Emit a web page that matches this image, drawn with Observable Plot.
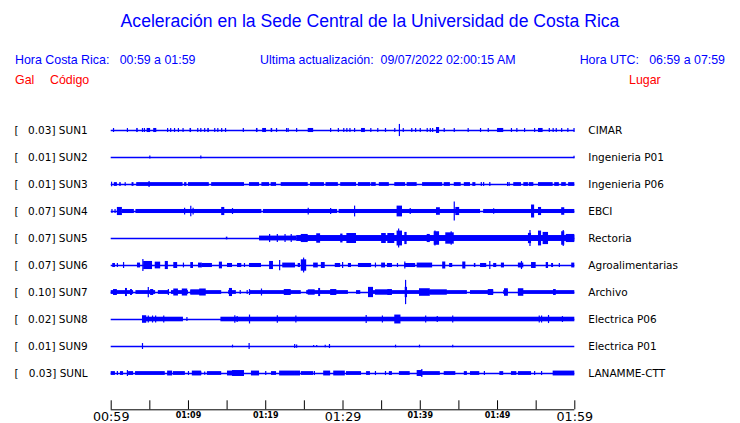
<!DOCTYPE html>
<html><head><meta charset="utf-8">
<script src="https://cdn.jsdelivr.net/npm/d3@7"></script>
<script src="https://cdn.jsdelivr.net/npm/@observablehq/plot@0.6"></script>
<style>
body{margin:0;background:#fff;width:740px;height:423px;overflow:hidden;}
#header{position:relative;height:95px;font-family:"Liberation Sans",Arial,sans-serif;}
#header div{position:absolute;white-space:pre;line-height:1;}
.title{left:0;width:740px;text-align:center;top:13px;font-size:17.6px;color:#0000ff;}
.info{font-size:12.4px;color:#0000ff;top:54px;}
.red{font-size:12.4px;color:#ff0000;top:74px;}
#chart svg{display:block;overflow:visible;}
</style></head><body>
<div id="header">
<div class="title">Aceleración en la Sede Central de la Universidad de Costa Rica</div>
<div class="info" style="left:15px">Hora Costa Rica:   00:59 a 01:59</div>
<div class="info" style="left:260px">Ultima actualización:  09/07/2022 02:00:15 AM</div>
<div class="info" style="right:15px">Hora UTC:   06:59 a 07:59</div>
<div class="red" style="left:15px">Gal</div>
<div class="red" style="left:50px">Código</div>
<div class="red" style="left:629px">Lugar</div>
</div>
<div id="chart"></div>
<script>
// ---- data ----
const codes = ["SUN1","SUN2","SUN3","SUN4","SUN5","SUN6","SUN7","SUN8","SUN9","SUNL"];
const places = ["CIMAR","Ingenieria P01","Ingenieria P06","EBCI","Rectoria","Agroalimentarias","Archivo","Electrica P06","Electrica P01","LANAMME-CTT"];
const peakGal = [0.03,0.01,0.01,0.07,0.07,0.07,0.10,0.02,0.01,0.03];
const startMinute = 59;          // 00:59 local time
const spanMinutes = 60;          // 00:59 -> 01:59
const majorTicks = [0,30,60];
const minorTicks = [10,20,40,50];
const tickStep = 5;

// bands: [t0 (min), t1 (min), relative amplitude]; spikes: [t (min), relative amplitude]
const sun1Bands = [[3.3,3.5,0.15],[4.65,5.1,0.15],[5.5,5.9,0.15],[10.2,10.4,0.15],[12.5,12.7,0.15],[18.8,19.0,0.15],[19.6,20.1,0.15],[20.7,20.9,0.15],[25.5,26.2,0.15],[32.4,32.9,0.15],[42.1,42.5,0.22],[50.0,50.8,0.15],[55.3,55.9,0.15]];
const sun1Spikes = [[0.3,0.15],[2.1,0.15],[4.05,0.15],[4.3,0.15],[7.3,0.15],[7.7,0.15],[8.2,0.15],[8.7,0.15],[9.3,0.15],[11.2,0.15],[11.6,0.15],[12.1,0.15],[13.4,0.15],[13.8,0.15],[14.3,0.15],[14.8,0.15],[17.1,0.15],[21.4,0.15],[22.7,0.15],[22.9,0.15],[24.0,0.15],[28.4,0.15],[29.4,0.15],[30.1,0.15],[30.5,0.15],[30.9,0.15],[31.5,0.15],[33.6,0.15],[34.5,0.15],[35.5,0.15],[36.7,0.15],[37.3,0.45],[37.8,0.15],[38.9,0.15],[39.4,0.15],[40.0,0.15],[40.9,0.15],[41.3,0.15],[41.6,0.15],[43.1,0.15],[44.4,0.15],[46.2,0.15],[47.8,0.15],[48.8,0.15],[51.8,0.15],[52.5,0.15],[53.5,0.15],[54.8,0.15],[56.7,0.15],[57.2,0.15],[57.6,0.15],[58.3,0.15],[59.1,0.15],[59.9,0.15]];

const sun2Bands = [];
const sun2Spikes = [[5.0,0.12],[11.6,0.12],[59.9,0.1]];

const sun3Bands = [[0.4,0.8,0.14],[1.1,1.3,0.14],[1.8,1.95,0.14],[2.7,2.95,0.14],[3.3,9.3,0.14],[9.5,9.8,0.14],[10.0,12.7,0.14],[13.0,17.25,0.14],[17.9,19.2,0.14],[19.5,20.5,0.14],[20.7,21.4,0.14],[22.0,25.5,0.14],[25.8,27.6,0.14],[27.8,29.4,0.14],[29.7,31.75,0.14],[32.0,33.6,0.14],[33.7,34.3,0.14],[34.7,36.0,0.14],[36.7,38.1,0.14],[38.3,39.6,0.14],[40.3,42.9,0.14],[43.1,43.9,0.14],[44.4,45.3,0.14],[45.7,46.5,0.14],[46.8,47.2,0.14],[52.1,53.1,0.14],[53.4,54.0,0.14],[54.1,54.7,0.14],[55.3,57.2,0.14],[57.4,58.0,0.14],[58.3,58.9,0.14],[59.2,60,0.14]];
const sun3Spikes = [[0.05,0.17],[4.9,0.22],[47.9,0.15],[48.2,0.15],[49.0,0.15],[51.3,0.15],[51.5,0.15]];

const sun4Bands = [[0.8,1.45,0.3],[1.45,3.0,0.15],[3.2,19.5,0.15],[19.7,29.3,0.15],[29.5,47.8,0.15],[48.2,60,0.15],[14.3,14.7,0.3],[37.0,37.7,0.4],[42.1,42.6,0.28],[44.6,45.1,0.3],[54.4,54.8,0.48],[55.3,55.7,0.3],[58.3,58.7,0.28]];
const sun4Spikes = [[0.1,0.15],[0.5,0.15],[9.5,0.25],[10.3,0.38],[10.6,0.25],[15.7,0.22],[25.5,0.25],[28.4,0.22],[31.5,0.4],[38.7,0.22],[44.4,0.7],[49.5,0.2]];

const sun5Bands = [[14.9,15.1,0.1],[19.2,24.0,0.18],[24.0,60,0.22],[24.6,25.5,0.3],[26.6,27.1,0.35],[29.7,30.0,0.33],[30.5,31.75,0.37],[35.0,35.6,0.37],[35.8,36.7,0.37],[37.0,37.7,0.55],[38.0,38.3,0.45],[40.9,41.3,0.3],[41.8,42.5,0.5],[43.3,44.4,0.42],[54.0,54.4,0.38],[55.3,55.7,0.55],[55.9,56.6,0.45],[58.3,58.7,0.5],[58.9,60,0.3]];
const sun5Spikes = [[20.5,0.3],[21.5,0.3],[22.5,0.3],[23.3,0.3],[37.2,0.7],[41.9,0.55],[44.0,0.5],[54.2,0.6],[58.5,0.6]];

const sun6Bands = [[0.2,0.55,0.15],[3.4,3.8,0.18],[4.2,5.35,0.3],[5.7,6.4,0.25],[7.0,7.4,0.3],[8.1,8.6,0.22],[10.3,10.65,0.22],[11.3,11.8,0.18],[11.8,13.1,0.15],[14.0,14.4,0.25],[15.05,15.7,0.15],[16.35,16.9,0.15],[17.9,19.45,0.15],[20.5,21.0,0.3],[22.2,23.85,0.18],[24.2,24.5,0.15],[24.6,25.3,0.42],[26.2,26.8,0.18],[27.2,27.7,0.22],[29.0,29.7,0.15],[30.7,31.1,0.15],[32.0,33.7,0.15],[35.0,35.5,0.18],[35.75,36.4,0.15],[38.0,39.4,0.15],[39.6,41.6,0.18],[42.9,43.3,0.26],[43.8,44.2,0.15],[45.5,45.9,0.26],[47.0,47.2,0.15],[47.8,48.6,0.15],[49.5,49.9,0.15],[50.5,50.9,0.18],[52.7,53.4,0.18],[54.4,55.0,0.22],[56.3,56.6,0.22],[57.0,57.25,0.15],[59.6,60,0.18]];
const sun6Spikes = [[0.8,0.15],[1.6,0.22],[4.1,0.45],[9.35,0.18],[17.25,0.15],[21.8,0.38],[24.9,0.55],[29.95,0.22],[34.2,0.18],[37.05,0.15],[38.0,0.26],[49.0,0.3],[53.1,0.3],[58.0,0.15]];

const sun7Bands = [[0,2.9,0.14],[3.2,5.75,0.14],[6.1,7.55,0.14],[7.8,10,0.14],[10.3,14.3,0.14],[15.2,16.2,0.14],[17.9,24.6,0.14],[25.3,30.7,0.14],[31.75,32.3,0.14],[33.3,46.1,0.14],[46.5,49.5,0.14],[50.8,51.4,0.14],[52.7,60,0.14],[0.3,0.8,0.22],[1.85,2.1,0.3],[2.5,2.75,0.22],[5.1,5.5,0.22],[8.1,8.7,0.26],[9.2,9.9,0.26],[10.3,11.7,0.2],[11.45,12.3,0.26],[15.3,15.7,0.3],[22.4,23.3,0.22],[25.5,26.4,0.2],[26.85,27.1,0.3],[28.4,29.2,0.22],[33.3,33.95,0.38],[34.2,36.0,0.2],[35.8,36.4,0.22],[38.05,38.35,0.38],[39.9,41.3,0.28],[41.3,43.5,0.2],[48.8,49.5,0.22],[50.9,51.4,0.28],[52.7,53.4,0.28],[57.25,57.6,0.22]];
const sun7Spikes = [[4.8,0.38],[7.4,0.22],[16.7,0.15],[17.6,0.15],[17.9,0.22],[19.45,0.26],[38.1,0.9]];

const sun8Bands = [[4.05,9.35,0.17],[4.05,4.6,0.28],[14.2,60,0.17],[36.7,37.5,0.33]];
const sun8Spikes = [[4.8,0.26],[5.35,0.26],[5.75,0.26],[6.8,0.26],[9.8,0.15],[16.0,0.28],[16.3,0.22],[17.9,0.33],[21.5,0.28],[23.9,0.26],[33.0,0.3],[35.1,0.26],[40.7,0.26],[42.2,0.22],[44.2,0.26],[55.4,0.26],[55.7,0.26],[56.6,0.3],[58.4,0.22]];

const sun9Bands = [];
const sun9Spikes = [[4.05,0.22],[15.7,0.1],[17.85,0.22],[23.75,0.15],[24.0,0.12],[26.2,0.08],[26.6,0.08],[27.7,0.1],[28.25,0.15],[36.8,0.1],[39.9,0.1],[44.2,0.1]];

const sunlBands = [[0,0.55,0.14],[1.2,1.6,0.14],[2.25,2.9,0.14],[3.15,7.0,0.14],[7.3,7.95,0.18],[8.05,9.6,0.14],[10.5,11.7,0.18],[12.45,14.3,0.14],[15.05,15.7,0.18],[15.7,17.25,0.22],[18.15,19.2,0.18],[20.75,21.4,0.14],[21.8,23.85,0.18],[23.85,24.5,0.18],[24.6,26.2,0.14],[27.5,28.4,0.18],[28.8,30.3,0.18],[30.45,32.4,0.14],[33.05,33.55,0.14],[36.0,36.4,0.14],[37.3,38.7,0.14],[39.6,40.3,0.22],[40.3,42.6,0.14],[43.1,44.6,0.14],[45.7,46.1,0.14],[46.5,47.7,0.14],[50.3,50.8,0.14],[51.8,52.5,0.14],[52.7,54.4,0.14],[57.2,60,0.18]];
const sunlSpikes = [[0.8,0.15],[2.1,0.22],[10.0,0.15],[11.6,0.12],[12.1,0.12],[20.0,0.15],[26.3,0.15],[34.2,0.15],[35.5,0.15],[40.2,0.3],[48.3,0.15],[54.8,0.15],[55.7,0.15]];

const bandsByStation = [sun1Bands,sun2Bands,sun3Bands,sun4Bands,sun5Bands,sun6Bands,sun7Bands,sun8Bands,sun9Bands,sunlBands];
const spikesByStation = [sun1Spikes,sun2Spikes,sun3Spikes,sun4Spikes,sun5Spikes,sun6Spikes,sun7Spikes,sun8Spikes,sun9Spikes,sunlSpikes];

// ---- build tables ----
const rows = codes.map((c, i) => ({i, code: c, place: places[i], gal: peakGal[i]}));
const bands = bandsByStation.flatMap((arr, i) => arr.map(([t0, t1, a]) => ({i, t0, t1, a})));
const spikes = spikesByStation.flatMap((arr, i) => arr.map(([t, a]) => ({i, t, a})));
const half = 0.5;          // amplitude 1 = half a row
const axisRow = 10.344;    // time axis sits below the last trace
const blue = "#0000ff";

const fmt = t => {
  const m = startMinute + t;
  return String(Math.floor(m / 60)).padStart(2, "0") + ":" + String(m % 60).padStart(2, "0");
};
const rowIdx = rows.map(r => r.i);

const chart = Plot.plot({
  width: 740, height: 328,
  marginLeft: 110.7, marginRight: 165.7, marginTop: 21.5, marginBottom: 13.7,
  x: {domain: [0, spanMinutes], label: null},
  y: {domain: [-0.5, axisRow], reverse: true, label: null},
  style: {fontFamily: "DejaVu Sans", color: "black", background: "white"},
  marks: [
    Plot.ruleY(rows, {y: "i", x1: 0, x2: spanMinutes, stroke: blue, strokeWidth: 1.4}),
    Plot.rect(bands, {x1: "t0", x2: "t1", y1: d => d.i - d.a * half, y2: d => d.i + d.a * half, fill: blue}),
    Plot.ruleX(spikes, {x: "t", y1: d => d.i - d.a * half, y2: d => d.i + d.a * half, stroke: blue, strokeWidth: 1.2}),
    Plot.axisY({ticks: rowIdx, tickSize: 0, tickPadding: 23.5, tickFormat: i => `${peakGal[i].toFixed(2)}] ${codes[i]}`, fontSize: 10.5, label: null}),
    Plot.axisY({ticks: rowIdx, tickSize: 0, tickPadding: 92.7, tickFormat: () => "[", fontSize: 10.5, label: null}),
    Plot.axisY({anchor: "right", ticks: rowIdx, tickSize: 0, tickPadding: 13.5, tickFormat: i => places[i], fontSize: 10.5, label: null}),
    Plot.ruleY([axisRow], {x1: 0, x2: spanMinutes, stroke: "black", strokeWidth: 1}),
    Plot.axisX({ticks: d3.range(0, spanMinutes + 1, tickStep), tickSize: -9, tickFormat: () => "", label: null}),
    Plot.axisX({ticks: majorTicks, tickSize: 0, tickPadding: 2.4, tickFormat: fmt, fontSize: 12.7, label: null}),
    Plot.axisX({ticks: minorTicks, tickSize: 0, tickPadding: 3, tickFormat: fmt, fontSize: 8, fontWeight: "bold", label: null})
  ]
});
document.getElementById("chart").appendChild(chart);
</script>
</body></html>
